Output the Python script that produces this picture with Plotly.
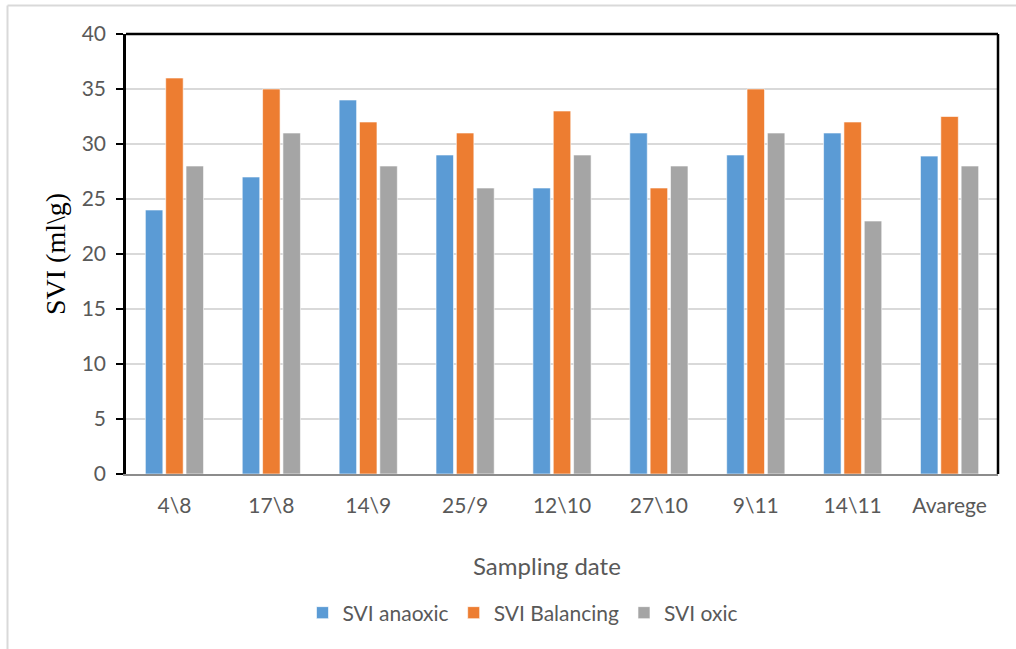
import plotly.graph_objects as go

# Sampling dates and SVI readings (ml/g)
dates = ["4\\8", "17\\8", "14\\9", "25/9", "12\\10", "27\\10", "9\\11", "14\\11", "Avarege"]
svi_anaoxic = [24, 27, 34, 29, 26, 31, 29, 31, 28.9]
svi_balancing = [36, 35, 32, 31, 33, 26, 35, 32, 32.5]
svi_oxic = [28, 31, 28, 26, 29, 28, 31, 23, 28]

series = [
    ("SVI anaoxic", svi_anaoxic, "#5b9bd5"),
    ("SVI Balancing", svi_balancing, "#ed7d31"),
    ("SVI oxic", svi_oxic, "#a5a5a5"),
]

fig = go.Figure()
for name, vals, color in series:
    fig.add_trace(go.Bar(
        x=dates, y=vals, name=name,
        marker=dict(color=color, line=dict(color="white", width=0.6)),
    ))

W, H = 1016, 649
L, R, T, B = 126, 18, 34, 175
pw = W - L - R
ph = H - T - B


def px_x(x):
    return (x - L) / pw


def px_y(y):
    return (H - B - y) / ph


fig.update_layout(
    width=W, height=H,
    margin=dict(l=L, r=R, t=T, b=B),
    paper_bgcolor="white", plot_bgcolor="white",
    barmode="group", bargap=0.37, bargroupgap=0.14,
    font=dict(family="Lato, 'Open Sans', sans-serif", color="#595959", size=21),
    showlegend=True,
    legend=dict(
        orientation="h", x=px_x(523), xanchor="center", y=px_y(613),
        yanchor="middle", font=dict(size=21, color="#595959"),
        tracegroupgap=0,
    ),
    xaxis=dict(
        showgrid=False, showline=True, linecolor="#8c8c8c", linewidth=1.5,
        ticks="", tickfont=dict(size=21, color="#595959"), ticklabelstandoff=12,
        mirror=False,
    ),
    yaxis=dict(
        range=[0, 40], dtick=5, showgrid=True, gridcolor="#d9d9d9", gridwidth=2,
        showline=True, linecolor="black", linewidth=2.5,
        ticks="outside", ticklen=7, tickwidth=2, tickcolor="black",
        tickfont=dict(size=21, color="#595959"), ticklabelstandoff=6,
        title=dict(text="SVI (ml\\g)", font=dict(family="'Liberation Serif', 'Times New Roman', serif",
                                                size=28, color="black"), standoff=8),
        zeroline=False,
    ),
    annotations=[
        dict(text="Sampling date", xref="paper", yref="paper",
             x=px_x(547), y=px_y(565), xanchor="center", yanchor="middle",
             showarrow=False, font=dict(size=24, color="#595959")),
    ],
    shapes=[
        # black frame on top and right of the plot area
        dict(type="line", xref="paper", yref="paper", x0=0, x1=1, y0=1, y1=1,
             line=dict(color="black", width=2.5)),
        dict(type="line", xref="paper", yref="paper", x0=1, x1=1, y0=0, y1=1,
             line=dict(color="black", width=2.5)),
        # light outer chart border (left and top)
        dict(type="line", xref="paper", yref="paper",
             x0=px_x(7.5), x1=px_x(7.5), y0=px_y(H + 5), y1=px_y(5.5),
             line=dict(color="#d9d9d9", width=2)),
        dict(type="line", xref="paper", yref="paper",
             x0=px_x(7.5), x1=px_x(W + 5), y0=px_y(5.5), y1=px_y(5.5),
             line=dict(color="#d9d9d9", width=2)),
    ],
)

fig.write_html("out.html")
